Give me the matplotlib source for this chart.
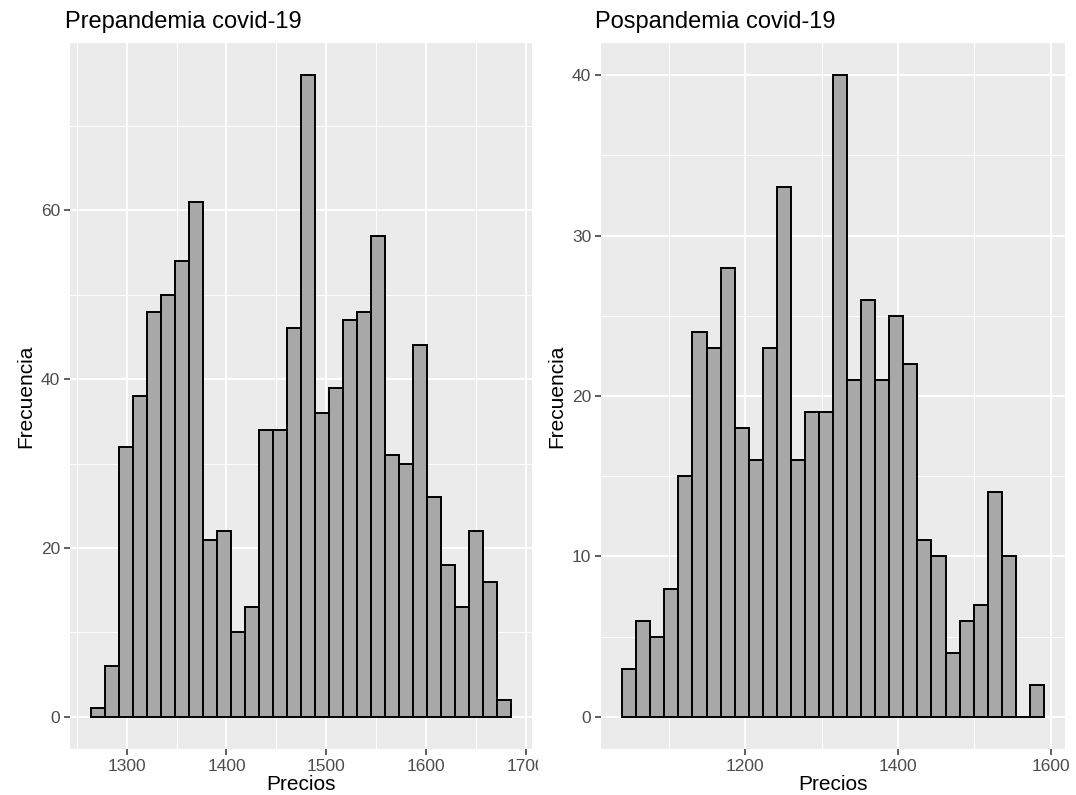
import numpy as np
import matplotlib
matplotlib.use("Agg")
import matplotlib.pyplot as plt
from matplotlib.transforms import Bbox, TransformedBbox

plt.rcParams['font.family'] = ['Liberation Sans', 'DejaVu Sans']

# datos (30 intervalos por histograma)
pre_counts = [1, 6, 32, 38, 48, 50, 54, 61, 21, 22, 10, 13, 34, 34, 46,
              76, 36, 39, 47, 48, 57, 31, 30, 44, 26, 18, 13, 22, 16, 2]
pre_start = 1264.4
pre_width = 14.02

pos_counts = [3, 6, 5, 8, 15, 24, 23, 28, 18, 16, 23, 33, 16, 19, 19,
              40, 21, 26, 21, 25, 22, 11, 10, 4, 6, 7, 14, 10, 0, 2]
pos_start = 1038.7
pos_width = 18.41

pre_xticks = [1300, 1400, 1500, 1600, 1700]
pre_xminor = [1250, 1350, 1450, 1550, 1650]
pre_yticks = [0, 20, 40, 60]
pre_yminor = [10, 30, 50, 70]

pos_xticks = [1200, 1400, 1600]
pos_xminor = [1100, 1300, 1500]
pos_yticks = [0, 10, 20, 30, 40]
pos_yminor = [5, 15, 25, 35]

BG = "#EBEBEB"
FILL = "#A8A8A8"


def histo(ax, counts, start, width, xt, xm, yt, ym, titulo):
    n = len(counts)
    edges = start + width * np.arange(n + 1)
    ax.set_facecolor(BG)
    ax.bar(edges[:-1], counts, width=width, align="edge", color=FILL,
           edgecolor="black", linewidth=1.4, zorder=3)
    lo, hi = edges[0], edges[-1]
    pad = 0.05 * (hi - lo)
    ax.set_xlim(lo - pad, hi + pad)
    ymax = max(counts)
    ax.set_ylim(-0.05 * ymax, 1.05 * ymax)
    ax.set_xticks(xt)
    ax.set_xticks(xm, minor=True)
    ax.set_yticks(yt)
    ax.set_yticks(ym, minor=True)
    ax.grid(which="major", color="white", linewidth=1.4, zorder=0)
    ax.grid(which="minor", color="white", linewidth=0.7, zorder=0)
    ax.set_axisbelow(True)
    for s in ax.spines.values():
        s.set_visible(False)
    ax.tick_params(which="major", length=4, width=1.1, color="#333333",
                   labelcolor="#4D4D4D", labelsize=12.5, pad=3)
    ax.tick_params(which="minor", length=0)
    ax.set_xlabel("Precios", fontsize=15, labelpad=1)
    ax.set_ylabel("Frecuencia", fontsize=15, labelpad=4)
    ax.set_title(titulo, fontsize=17, loc="left", pad=11, x=-0.012)


fig = plt.figure(figsize=(10.76, 7.95), dpi=100)
ax1 = fig.add_axes([0.0651, 0.0579, 0.4294, 0.888])
ax2 = fig.add_axes([0.5586, 0.0579, 0.4312, 0.888])

histo(ax1, pre_counts, pre_start, pre_width, pre_xticks, pre_xminor,
      pre_yticks, pre_yminor, "Prepandemia covid-19")
histo(ax2, pos_counts, pos_start, pos_width, pos_xticks, pos_xminor,
      pos_yticks, pos_yminor, "Pospandemia covid-19")

# recorte del texto del panel izquierdo, como en la figura original
clip = TransformedBbox(Bbox([[0, 0], [0.5, 1]]), fig.transFigure)
for lab in ax1.get_xticklabels():
    lab.set_clip_on(True)
    lab.set_clip_box(clip)

fig.savefig("out.png", dpi=100)
